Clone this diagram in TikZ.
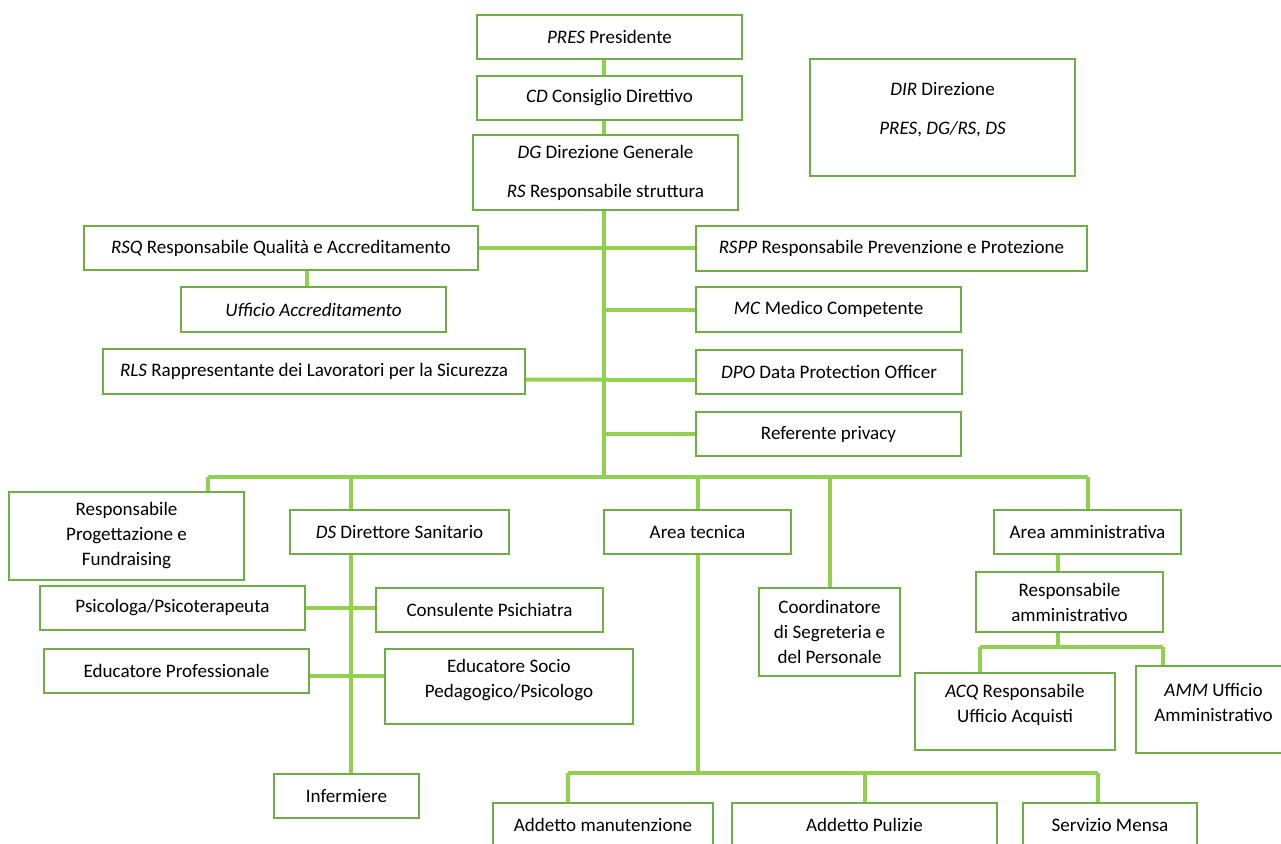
\documentclass[tikz,border=0pt]{standalone}
\usepackage{fontspec}
\setmainfont{Carlito}
\usepackage{xcolor}
\usepackage{tikz}
\definecolor{colBox}{RGB}{112,173,71}
\definecolor{colLink}{RGB}{146,208,80}

\begin{document}
\begin{tikzpicture}[x=0.75pt, y=-0.75pt,
    box/.style={draw=colBox, line width=1.5pt, fill=white, align=center,
        inner sep=2pt, font=\fontsize{14.3}{18.75}\selectfont},
    txt/.style={align=center, inner sep=0pt, font=\fontsize{14.3}{18.75}\selectfont},
    wh/.style 2 args={minimum width=#1*0.75pt, minimum height=#2*0.75pt},
    link/.style={colLink, line width=3pt}]

\useasboundingbox (0,0) rectangle (1281,843);
\clip (0,0) rectangle (1281,843);

% Vertice
\node[box, wh={265}{44}] (pres) at (609.5,37) {\textit{PRES} Presidente};
\node[box, wh={265}{44}] (cd) at (609.5,98) {\textit{CD} Consiglio Direttivo};
\node[box, wh={265}{75}] (dg) at (605.5,172.5)
    {\textit{DG} Direzione Generale\\[10.5pt]\textit{RS} Responsabile struttura};
\node[box, wh={265}{117}] (dir) at (942.5,117.5) {};
\node[txt] (dirtxt) at ([yshift=6pt]dir.center)
    {\textit{DIR} Direzione\\[10.5pt]\textit{PRES}, \textit{DG/RS}, \textit{DS}};

% Staff
\node[box, wh={394}{44}] (rsq) at (281,248)
    {\textit{RSQ} Responsabile Qualità e Accreditamento};
\node[box, wh={265}{45}] (uacc) at (313.5,309.5) {\textit{Ufficio Accreditamento}};
\node[box, wh={422}{45}] (rls) at (314,371.5)
    {\textit{RLS} Rappresentante dei Lavoratori per la Sicurezza};
\node[box, wh={391}{45}] (rspp) at (891.5,248.5)
    {\textit{RSPP} Responsabile Prevenzione e Protezione};
\node[box, wh={265}{45}] (mc) at (828.5,309.5) {\textit{MC} Medico Competente};
\node[box, wh={266}{44}] (dpo) at (829,372) {\textit{DPO} Data Protection Officer};
\node[box, wh={265}{44}] (refp) at (828.5,434) {Referente privacy};

% Aree
\node[box, wh={235}{88}] (prog) at (126.5,536)
    {Responsabile\\Progettazione e\\Fundraising};
\node[box, wh={219}{44}] (ds) at (399.5,532) {\textit{DS} Direttore Sanitario};
\node[box, wh={187}{44}] (atec) at (697.5,532) {Area tecnica};
\node[box, wh={141}{88}] (coord) at (829.5,632)
    {Coordinatore\\di Segreteria e\\del Personale};
\node[box, wh={187}{44}] (aamm) at (1087.5,532) {Area amministrativa};

% Area sanitaria
\node[box, wh={265}{44}] (psic) at (172.5,608) {Psicologa/Psicoterapeuta};
\node[box, wh={227}{44}] (cons) at (489.5,610) {Consulente Psichiatra};
\node[box, wh={265}{44}] (edup) at (176.5,671) {Educatore Professionale};
\node[box, wh={248}{75}] (edus) at (509,686.5) {};
\node[txt] (edustxt) at ([yshift=5pt]edus.center)
    {Educatore Socio\\Pedagogico/Psicologo};
\node[box, wh={145}{44}] (inf) at (346.5,796) {Infermiere};

% Area amministrativa
\node[box, wh={187}{60}] (ramm) at (1069.5,602)
    {Responsabile\\amministrativo};
\node[box, wh={200}{77}] (acq) at (1015,711.5) {};
\node[txt] (acqtxt) at ([yshift=5pt]acq.center)
    {\textit{ACQ} Responsabile\\Ufficio Acquisti};
\node[box, wh={155}{87}] (ammu) at (1213.5,709.5) {};
\node[txt] (ammutxt) at ([yshift=5pt]ammu.center)
    {\textit{AMM} Ufficio\\Amministrativo};

% Area tecnica
\node[box, wh={220}{44}] (manut) at (603,825) {Addetto manutenzione};
\node[box, wh={265}{44}] (puli) at (864.5,825) {Addetto Pulizie};
\node[box, wh={174}{44}] (mensa) at (1110,825) {Servizio Mensa};

% Linee verticali principali
\coordinate (bus) at (604,477);
\draw[link] (pres.south -| bus) -- (cd.north -| bus);
\draw[link] (cd.south -| bus) -- (dg.north -| bus);
\draw[link] (dg.south -| bus) -- (bus);

% Collegamenti staff
\draw[link] (rsq.east) -- (rsq.east -| rspp.west);
\draw[link] (uacc.north -| 307,0) -- (rsq.south -| 307,0);
\draw[link] (mc.west) -- (mc.west -| bus);
\draw[link] ([yshift=-6pt]rls.east) -- ([yshift=-6pt]dpo.west);
\draw[link] (refp.west) -- (refp.west -| bus);

% Barra aree
\coordinate (bl) at (208,477);
\coordinate (dsx) at (351,477);
\draw[link] (bl) -- (bus -| aamm.north);
\draw[link] (bl) -- (bl |- prog.north);
\draw[link] (dsx) -- (dsx |- ds.north);
\foreach \n in {atec, coord, aamm}
    \draw[link] (bus -| \n.north) -- (\n.north);

% Area sanitaria
\draw[link] (dsx |- ds.south) -- (dsx |- inf.north);
\draw[link] (psic.east) -- (psic.east -| cons.west);
\draw[link] ([yshift=-4pt]edup.east) -- ([yshift=-4pt]edup.east -| edus.west);

% Area tecnica
\coordinate (tl) at (568,773);
\coordinate (tr) at (1098,773);
\draw[link] (atec.south) -- (atec.south |- tl);
\draw[link] (tl) -- (tr);
\draw[link] (tl) -- (tl |- manut.north);
\draw[link] (puli.north |- tl) -- (puli.north);
\draw[link] (tr) -- (tr |- mensa.north);

% Area amministrativa
\coordinate (ab) at (1058,647);
\coordinate (al) at (980,647);
\coordinate (ar) at (1163,647);
\draw[link] (ab |- aamm.south) -- (ab |- ramm.north);
\draw[link] (ab |- ramm.south) -- (ab);
\draw[link] (al) -- (ar);
\draw[link] (al) -- (al |- acq.north);
\draw[link] (ar) -- (ar |- ammu.north);

\end{tikzpicture}
\end{document}
